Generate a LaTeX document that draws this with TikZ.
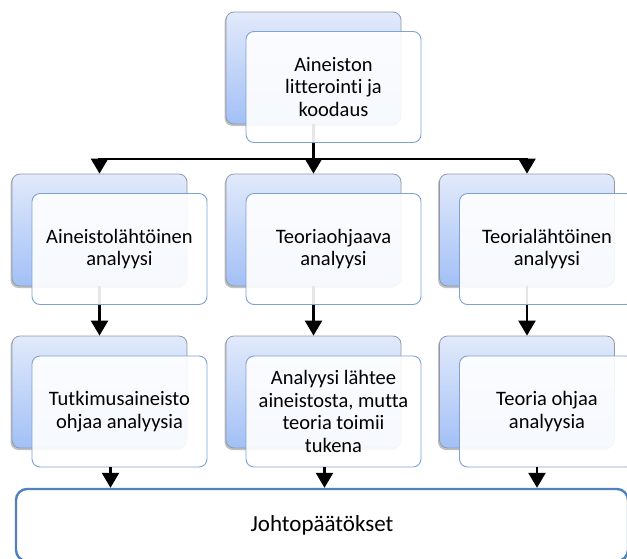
\documentclass[tikz,border=0pt]{standalone}
\usepackage{fontspec}
\setmainfont{Carlito}[Ligatures={NoCommon}]
\usetikzlibrary{arrows.meta,shadows}
\definecolor{backtop}{HTML}{E2EAFB}
\definecolor{backbot}{HTML}{A2C0F6}
\definecolor{backline}{HTML}{8F9AAA}
\definecolor{frontline}{HTML}{7EA2D6}
\definecolor{endline}{HTML}{4F81BD}
\tikzset{
  backbox/.style={draw=backline, line width=0.8pt, rounded corners=8pt,
    top color=backtop, bottom color=backbot,
    minimum width=175pt, minimum height=112pt, inner sep=0pt,
    drop shadow={shadow xshift=-1.5pt, shadow yshift=-2pt, opacity=0.35, fill=black!70}},
  frontbox/.style={draw=frontline, line width=0.9pt, rounded corners=8pt,
    fill=white, fill opacity=0.9, text opacity=1,
    minimum width=175pt, minimum height=111pt, inner sep=0pt, align=center,
    font=\fontsize{20.5}{22.5}\selectfont},
  endbox/.style={draw=endline, line width=2.4pt, rounded corners=11pt, fill=white,
    minimum width=612pt, minimum height=72pt, inner sep=0pt,
    font=\fontsize{23}{25}\selectfont},
  link/.style={line width=2.4pt, draw=black},
  linkarrow/.style={link, -{Triangle[width=17pt,length=15pt]}}
}
\begin{document}
\begin{tikzpicture}[x=1pt,y=-1pt]
\useasboundingbox (0,0) rectangle (627,558);
\clip (0,0) rectangle (627,558);

% back panels
\node[backbox] (t0) at (313.5,68) {};
\node[backbox] (a1) at (99.5,230) {};
\node[backbox] (a2) at (313.5,230) {};
\node[backbox] (a3) at (527,230) {};
\node[backbox] (c1) at (99.5,392) {};
\node[backbox] (c2) at (313.5,392) {};
\node[backbox] (c3) at (527,392) {};

% connectors running behind the front cards
\coordinate (hub) at (313.5,159);
\draw[link] (t0.south) -- (hub);
\draw[linkarrow] (hub) -| (a1.north);
\draw[linkarrow] (hub) -- (a2.north);
\draw[linkarrow] (hub) -| (a3.north);
\draw[linkarrow] (a1.south) -- (c1.north);
\draw[linkarrow] (a2.south) -- (c2.north);
\draw[linkarrow] (a3.south) -- (c3.north);

% front cards with the texts
\node[frontbox] (t0f) at (333.5,87) {Aineiston\\litterointi ja\\koodaus};
\node[frontbox] (a1f) at (119.5,249) {Aineistolähtöinen\\analyysi};
\node[frontbox] (a2f) at (333.5,249) {Teoriaohjaava\\analyysi};
\node[frontbox] (a3f) at (547,249) {Teorialähtöinen\\analyysi};
\node[frontbox] (c1f) at (119.5,411.5) {Tutkimusaineisto\\ohjaa analyysia};
\node[frontbox] (c2f) at (333.5,411.5) {Analyysi lähtee\\aineistosta, mutta\\teoria toimii\\tukena};
\node[frontbox] (c3f) at (547,411.5) {Teoria ohjaa\\analyysia};

% conclusion
\node[endbox] (end) at (322,525) {Johtopäätökset};
\draw[linkarrow] ([xshift=-9pt]c1f.south) -- ([xshift=-9pt]c1f.south |- end.north);
\draw[linkarrow] ([xshift=-9pt]c2f.south) -- ([xshift=-9pt]c2f.south |- end.north);
\draw[linkarrow] ([xshift=-10pt]c3f.south) -- ([xshift=-10pt]c3f.south |- end.north);
\end{tikzpicture}
\end{document}
